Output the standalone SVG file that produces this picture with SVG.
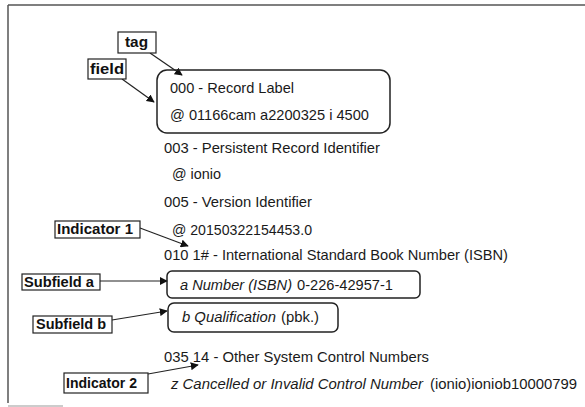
<svg xmlns="http://www.w3.org/2000/svg" width="585" height="407" viewBox="0 0 585 407">
<style>
.t{font-family:"Liberation Sans",Arial,sans-serif;font-size:15px;fill:#1a1a1a}
.i{font-style:italic}
.lb{font-family:"Liberation Sans Narrow","Liberation Sans",Arial,sans-serif;font-weight:bold;font-size:14px;fill:#111}
.lbox{fill:#fff;stroke:#222;stroke-width:1.2}
.rbox{fill:none;stroke:#222;stroke-width:1.5}
.con{stroke:#222;stroke-width:1.2;fill:none;marker-end:url(#ah)}
</style>
<defs>
<marker id="ah" viewBox="0 0 10 10" refX="9" refY="5" markerWidth="8" markerHeight="8" markerUnits="userSpaceOnUse" orient="auto">
<path d="M0,0 L10,5 L0,10 z" fill="#111"/>
</marker>
</defs>
<rect width="585" height="407" fill="#fff"/>
<g id="frame" stroke="#555" stroke-width="1.5" fill="none">
<path d="M8,5 H585"/>
<path d="M8,5 V403"/>
<path d="M8,406 H63" stroke="#bbb"/>
</g>
<g id="connectors">
<path class="con" d="M150,53 L182,75"/>
<path class="con" d="M122,79 L154,102"/>
<path class="con" d="M140,228 L188,246"/>
<path class="con" d="M100,281 L167,281"/>
<path class="con" d="M112,320 L167,311"/>
<path class="con" d="M148,374 L198,365"/>
</g>
<g id="tag"><rect class="lbox" x="118" y="32" width="38" height="21"/><text class="lb" x="125" y="47" textLength="23" lengthAdjust="spacingAndGlyphs">tag</text></g>
<g id="field"><rect class="lbox" x="88" y="59" width="38" height="20"/><text class="lb" x="90" y="74" textLength="34" lengthAdjust="spacingAndGlyphs">field</text></g>
<g id="record-label">
<rect class="rbox" x="157" y="70" width="233" height="63" rx="10"/>
<text class="t" x="170" y="93" textLength="124" lengthAdjust="spacingAndGlyphs">000 - Record Label</text>
<text class="t" x="170" y="120" textLength="199" lengthAdjust="spacingAndGlyphs">@ 01166cam  a2200325  i 4500</text>
</g>
<g id="f003">
<text class="t" x="164" y="153" textLength="216" lengthAdjust="spacingAndGlyphs">003 - Persistent Record Identifier</text>
<text class="t" x="172" y="179" textLength="49" lengthAdjust="spacingAndGlyphs">@ ionio</text>
</g>
<g id="f005">
<text class="t" x="164" y="207" textLength="148" lengthAdjust="spacingAndGlyphs">005 - Version Identifier</text>
<text class="t" x="172" y="235" textLength="140" lengthAdjust="spacingAndGlyphs">@ 20150322154453.0</text>
</g>
<g id="f010"><text class="t" x="164" y="260" textLength="344" lengthAdjust="spacingAndGlyphs">010  1# - International  Standard Book Number (ISBN)</text></g>
<g id="indicator1"><rect class="lbox" x="55" y="221" width="85" height="17"/><text class="lb" x="57" y="234" textLength="76" lengthAdjust="spacingAndGlyphs">Indicator 1</text></g>
<g id="subfield-a-label"><rect class="lbox" x="22" y="274" width="78" height="16"/><text class="lb" x="24" y="287" textLength="70" lengthAdjust="spacingAndGlyphs">Subfield a</text></g>
<g id="subfield-a">
<rect class="rbox" x="167" y="271" width="253" height="27" rx="5"/>
<text class="t i" x="180" y="290" textLength="112" lengthAdjust="spacingAndGlyphs">a Number  (ISBN)</text>
<text class="t" x="297" y="290" textLength="96" lengthAdjust="spacingAndGlyphs">0-226-42957-1</text>
</g>
<g id="subfield-b-label"><rect class="lbox" x="33" y="316" width="79" height="17"/><text class="lb" x="36" y="329" textLength="70" lengthAdjust="spacingAndGlyphs">Subfield b</text></g>
<g id="subfield-b">
<rect class="rbox" x="168" y="303" width="170" height="29" rx="6"/>
<text class="t i" x="182" y="322" textLength="94" lengthAdjust="spacingAndGlyphs">b Qualification</text>
<text class="t" x="281" y="322" textLength="38" lengthAdjust="spacingAndGlyphs">(pbk.)</text>
</g>
<g id="f035"><text class="t" x="164" y="362" textLength="265" lengthAdjust="spacingAndGlyphs">035  14 - Other System Control Numbers</text></g>
<g id="indicator2"><rect class="lbox" x="64" y="373" width="84" height="20"/><text class="lb" x="66" y="388" textLength="71" lengthAdjust="spacingAndGlyphs">Indicator 2</text></g>
<g id="subfield-z">
<text class="t i" x="171" y="389" textLength="252" lengthAdjust="spacingAndGlyphs">z Cancelled or Invalid Control Number</text>
<text class="t" x="430" y="389" textLength="147" lengthAdjust="spacingAndGlyphs">(ionio)ioniob10000799</text>
</g>
</svg>
